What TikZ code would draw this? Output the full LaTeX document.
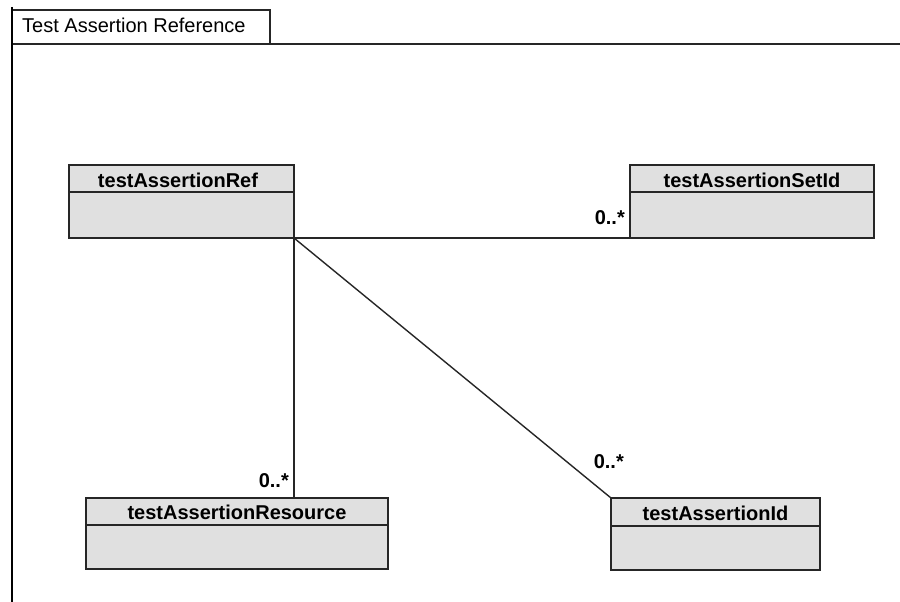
\documentclass[tikz,border=0pt]{standalone}
\usepackage{fontspec}
\setmainfont{Liberation Sans}
\begin{document}
\begin{tikzpicture}[x=1pt,y=-1pt,
  cls/.style={draw=black!85,line width=1.6pt,fill=black!12},
  conn/.style={draw=black!85,line width=1.4pt},
  hdr/.style={font=\fontsize{20}{20}\selectfont\bfseries,anchor=base},
  mult/.style={font=\fontsize{20}{20}\selectfont\bfseries,anchor=base east,inner sep=0pt},
  frm/.style={draw=black!85,line width=1.2pt}]
\useasboundingbox (0,0) rectangle (900,602);
% frame
\draw[frm] (12,10) rectangle (270,44);
\draw[frm] (270,44) -- (900,44);
\draw[black,line width=2.6pt] (12,7) -- (12,602);
\node[font=\fontsize{20}{20}\selectfont,anchor=base west,inner sep=0pt] (title) at (22,33) {Test Assertion Reference};
% classes
\draw[cls] (69,165) rectangle (294,238); \draw[cls] (69,192) -- (294,192);
\node[hdr] (ref) at (178,187) {testAssertionRef};
\draw[cls] (630,165) rectangle (874,238); \draw[cls] (630,192) -- (874,192);
\node[hdr] (setid) at (752,187) {testAssertionSetId};
\draw[cls] (86,498) rectangle (388,569); \draw[cls] (86,525) -- (388,525);
\node[hdr] (res) at (237,519) {testAssertionResource};
\draw[cls] (611,498) rectangle (820,570); \draw[cls] (611,526) -- (820,526);
\node[hdr] (aid) at (715.5,520) {testAssertionId};
% connectors
\coordinate (c0) at (294,238);
\coordinate (c1) at (630,238);
\coordinate (c2) at (294,498);
\coordinate (c3) at (611,498);
\draw[conn] (c0) -- (c1);
\draw[conn] (c0) -- (c2);
\draw[conn] (c0) -- (c3);
% multiplicities
\node[mult] (m1) at (625,224) {0..*};
\node[mult] (m2) at (289,487) {0..*};
\node[mult] (m3) at (624,468) {0..*};
\end{tikzpicture}
\end{document}
